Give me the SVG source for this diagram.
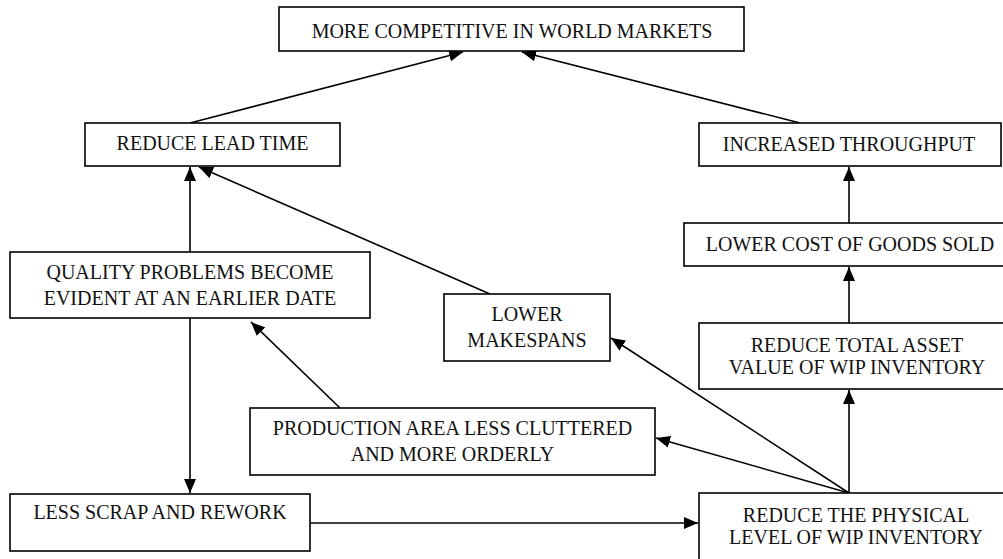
<svg xmlns="http://www.w3.org/2000/svg" width="1003" height="559" viewBox="0 0 1003 559">
<style>
.box{fill:#fff;stroke:#000;stroke-width:1.6}
.t{font-family:"Liberation Serif","Times New Roman",serif;font-size:20px;fill:#111;text-anchor:middle}
.c{stroke:#000;stroke-width:1.6;fill:none;marker-end:url(#ah)}
</style>
<defs>
<marker id="ah" viewBox="0 0 14 12" refX="14" refY="6" markerWidth="14" markerHeight="12" markerUnits="userSpaceOnUse" orient="auto">
<path d="M0,0 L14,6 L0,12 z" fill="#000"/>
</marker>
</defs>
<rect width="1003" height="559" fill="#fff"/>
<g id="connectors">
<line class="c" x1="190" y1="123" x2="463" y2="52"/>
<line class="c" x1="800" y1="123" x2="522" y2="52"/>
<line class="c" x1="849" y1="223" x2="849" y2="167"/>
<line class="c" x1="849" y1="323" x2="849" y2="267"/>
<line class="c" x1="849" y1="493" x2="849" y2="390"/>
<line class="c" x1="849" y1="493" x2="611" y2="338"/>
<line class="c" x1="849" y1="493" x2="656" y2="438"/>
<line class="c" x1="490" y1="294" x2="199" y2="167"/>
<line class="c" x1="190" y1="252" x2="190" y2="167"/>
<line class="c" x1="340" y1="408" x2="251" y2="322"/>
<line class="c" x1="190" y1="318" x2="190" y2="493"/>
<line class="c" x1="310" y1="523" x2="698" y2="523"/>
</g>
<g id="n_competitive">
<rect class="box" x="279" y="7" width="465" height="44"/>
<text class="t" x="512" y="37.5">MORE COMPETITIVE IN WORLD MARKETS</text>
</g>
<g id="n_leadtime">
<rect class="box" x="85" y="123" width="255" height="43"/>
<text class="t" x="212.5" y="150">REDUCE LEAD TIME</text>
</g>
<g id="n_throughput">
<rect class="box" x="699" y="123" width="302" height="43"/>
<text class="t" x="849" y="151">INCREASED THROUGHPUT</text>
</g>
<g id="n_lowercost">
<rect class="box" x="684" y="223" width="330" height="43"/>
<text class="t" x="850" y="251">LOWER COST OF GOODS SOLD</text>
</g>
<g id="n_quality">
<rect class="box" x="10" y="252" width="360" height="66"/>
<text class="t" x="190" y="279">QUALITY PROBLEMS BECOME</text>
<text class="t" x="190" y="305">EVIDENT AT AN EARLIER DATE</text>
</g>
<g id="n_makespans">
<rect class="box" x="444" y="294" width="166" height="67"/>
<text class="t" x="527" y="321">LOWER</text>
<text class="t" x="527" y="347">MAKESPANS</text>
</g>
<g id="n_assetvalue">
<rect class="box" x="699" y="323" width="316" height="66"/>
<text class="t" x="857" y="352">REDUCE TOTAL ASSET</text>
<text class="t" x="857" y="374">VALUE OF WIP INVENTORY</text>
</g>
<g id="n_production">
<rect class="box" x="250" y="408" width="405" height="67"/>
<text class="t" x="452.5" y="435">PRODUCTION AREA LESS CLUTTERED</text>
<text class="t" x="452.5" y="461">AND MORE ORDERLY</text>
</g>
<g id="n_scrap">
<rect class="box" x="10" y="494" width="300" height="57"/>
<text class="t" x="160" y="519">LESS SCRAP AND REWORK</text>
</g>
<g id="n_physical">
<rect class="box" x="699" y="493" width="316" height="80"/>
<text class="t" x="856" y="522">REDUCE THE PHYSICAL</text>
<text class="t" x="856" y="544">LEVEL OF WIP INVENTORY</text>
</g>
</svg>
